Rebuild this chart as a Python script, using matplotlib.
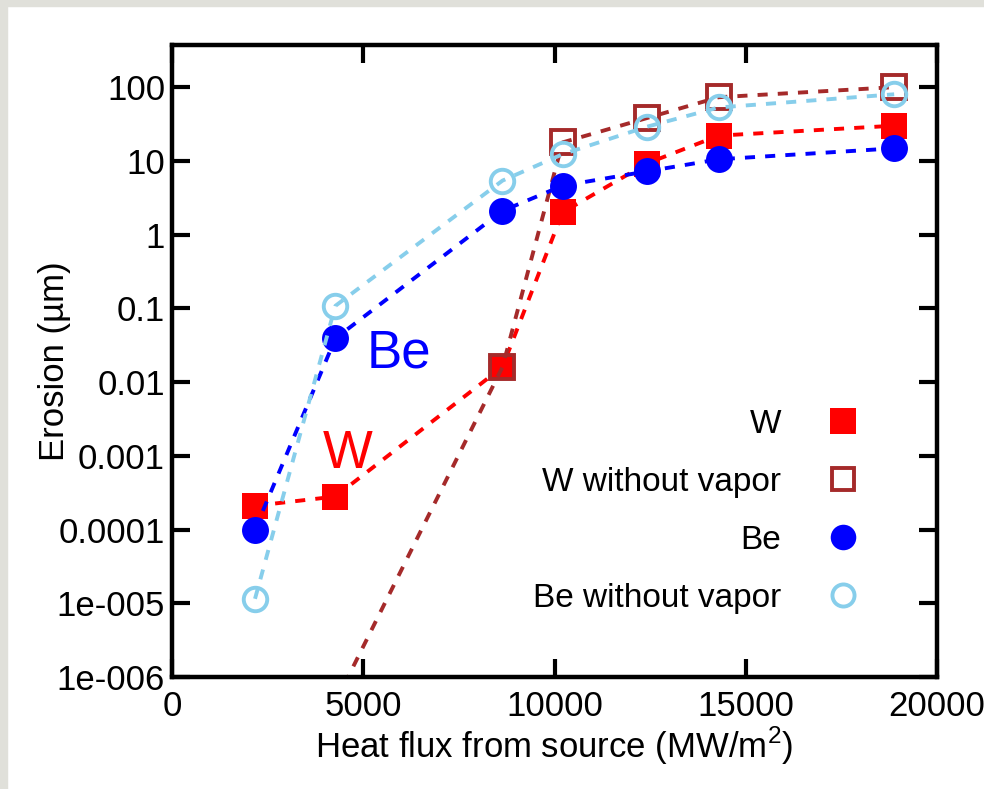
import matplotlib.pyplot as plt
from matplotlib.lines import Line2D
from matplotlib.patches import Rectangle

plt.rcParams["font.family"] = ["Liberation Sans", "DejaVu Sans"]
plt.rcParams["mathtext.fontset"] = "custom"
plt.rcParams["mathtext.rm"] = "Liberation Sans"

# heat flux from source (MW/m2)
flux = [2170, 4270, 8640, 10210, 12410, 14290, 18880]
# erosion (um)
w_erosion = [2.1e-4, 2.8e-4, 0.016, 2.0, 9.2, 22, 30]
w_novapor_flux = [4270, 8640, 10210, 12410, 14290, 18880]
w_novapor = [4.5e-7, 0.016, 17.8, 38, 73, 100]
be_erosion = [1.0e-4, 0.039, 2.1, 4.6, 7.2, 10.5, 14.8]
be_novapor = [1.15e-5, 0.108, 5.4, 12.3, 29, 53, 80]

yticks = [1e-6, 1e-5, 1e-4, 1e-3, 1e-2, 0.1, 1, 10, 100]
ytick_labels = ["1e-006", "1e-005", "0.0001", "0.001", "0.01", "0.1", "1", "10", "100"]
xticks = [0, 5000, 10000, 15000, 20000]

fig = plt.figure(figsize=(9.84, 7.89), dpi=100)
# grey slide border on left and top
fig.patches.append(Rectangle((0, 0), 7 / 984, 1, transform=fig.transFigure,
                             color="#e0e0da", zorder=0))
fig.patches.append(Rectangle((0, 1 - 6 / 789), 1, 6 / 789, transform=fig.transFigure,
                             color="#e0e0da", zorder=0))

ax = fig.add_axes([172 / 984, 1 - 677 / 789, 765 / 984, 632 / 789])

ms = 19.4
lw = 2.8
dash = (0, (2.6, 2.6))

ax.plot(flux, w_erosion, color="red", linestyle=dash, linewidth=lw,
        marker="s", markersize=ms, markeredgewidth=0)
ax.plot(w_novapor_flux, w_novapor, color="#a52a2a", linestyle=dash, linewidth=lw,
        marker="s", markersize=ms - 2.5, markerfacecolor="none", markeredgewidth=2.8)
ax.plot(flux, be_erosion, color="blue", linestyle=dash, linewidth=lw,
        marker="o", markersize=ms, markeredgewidth=0)
ax.plot(flux, be_novapor, color="#87ceeb", linestyle=dash, linewidth=lw,
        marker="o", markersize=ms - 2.5, markerfacecolor="none", markeredgewidth=2.8)

ax.set_yscale("log")
ax.set_ylim(1e-6, 373)
ax.set_xlim(0, 20000)
ax.set_yticks(yticks, ytick_labels)
ax.set_xticks(xticks, [str(v) for v in xticks])
ax.minorticks_off()
ax.tick_params(which="both", direction="in", length=13, width=3, labelsize=25,
               top=True, right=True)
ax.tick_params(axis="y", pad=5)
ax.tick_params(axis="x", pad=9)
for sp in ax.spines.values():
    sp.set_linewidth(3.2)

ax.set_xlabel("Heat flux from source (MW/m$^\\mathregular{2}$)", fontsize=25, labelpad=2)
ax.set_ylabel("Erosion (\u00b5m)", fontsize=25, labelpad=-10)

ax.text(0.255, 0.489, "Be", color="blue", fontsize=38, transform=ax.transAxes,
        ha="left", va="baseline")
ax.text(0.197, 0.331, "W", color="red", fontsize=38, transform=ax.transAxes,
        ha="left", va="baseline")

handles = [
    Line2D([], [], linestyle="none", marker="s", color="red", markersize=ms - 1,
           markeredgewidth=0),
    Line2D([], [], linestyle="none", marker="s", color="#a52a2a", markersize=ms - 3.5,
           markerfacecolor="none", markeredgewidth=2.8),
    Line2D([], [], linestyle="none", marker="o", color="blue", markersize=ms - 1,
           markeredgewidth=0),
    Line2D([], [], linestyle="none", marker="o", color="#87ceeb", markersize=ms - 3.5,
           markerfacecolor="none", markeredgewidth=2.8),
]
labels = ["W", "W without vapor", "Be", "Be without vapor"]
ax.legend(handles, labels, loc="center right", bbox_to_anchor=(0.899, 0.262),
          frameon=False, markerfirst=False, fontsize=24, handlelength=1.0,
          handletextpad=1.35, labelspacing=0.81, borderpad=0, borderaxespad=0)

fig.savefig("out.png", dpi=100)
